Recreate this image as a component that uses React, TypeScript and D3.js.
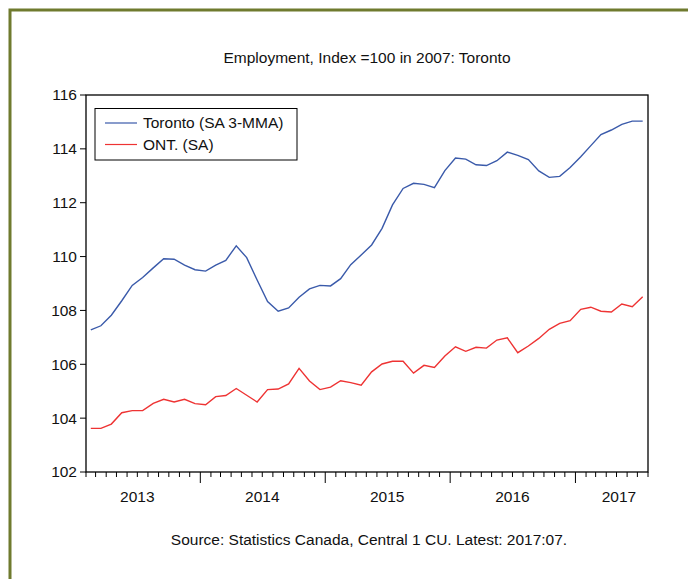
import React from 'react';
import * as d3 from 'd3';

const title = 'Employment, Index =100 in 2007: Toronto';
const source = 'Source: Statistics Canada, Central 1 CU. Latest: 2017:07.';
const seriesNames = ['Toronto (SA 3-MMA)', 'ONT. (SA)'];
const seriesColors = ['#3a5aaa', '#ee3333'];

// monthly, Feb 2013 .. Jul 2017
const startMonth = new Date(2013, 1, 1);
const endMonth = new Date(2017, 7, 1);

const toronto = [
  107.28, 107.43, 107.82, 108.36, 108.93, 109.22, 109.58, 109.92, 109.90, 109.68,
  109.51, 109.46, 109.68, 109.86, 110.40, 109.96, 109.13, 108.33, 107.97, 108.09,
  108.49, 108.80, 108.93, 108.91, 109.18, 109.70, 110.06, 110.43, 111.05, 111.92,
  112.53, 112.72, 112.68, 112.56, 113.19, 113.66, 113.62, 113.41, 113.38, 113.56,
  113.88, 113.76, 113.60, 113.18, 112.94, 112.98, 113.31, 113.71, 114.12, 114.53,
  114.70, 114.91, 115.03, 115.03,
];

const ontario = [
  103.62, 103.62, 103.78, 104.20, 104.28, 104.28, 104.55, 104.70, 104.60, 104.70,
  104.54, 104.50, 104.80, 104.84, 105.10, 104.85, 104.60, 105.06, 105.08, 105.27,
  105.85, 105.38, 105.06, 105.15, 105.39, 105.32, 105.22, 105.72, 106.01, 106.11,
  106.11, 105.67, 105.96, 105.88, 106.31, 106.65, 106.48, 106.63, 106.60, 106.90,
  106.98, 106.43, 106.68, 106.96, 107.30, 107.52, 107.62, 108.04, 108.12, 107.97,
  107.94, 108.24, 108.14, 108.51,
];

const yTicks = [102, 104, 106, 108, 110, 112, 114, 116];
const yearLabels = ['2013', '2014', '2015', '2016', '2017'];

const W = 688;
const H = 579;
const left = 86, right = 648, top = 95, bottom = 472;
const font = 'Liberation Sans, Arial, sans-serif';
const fs = 15.5;

export default function App() {
  const months = d3.timeMonth.range(startMonth, endMonth);
  const x = d3.scaleTime().domain([startMonth, endMonth]).range([left, right]);
  const y = d3.scaleLinear().domain([102, 116]).range([bottom, top]);

  // points sit in the middle of each month
  const mid = (d: Date) => (x(d) + x(d3.timeMonth.offset(d, 1))) / 2;
  const line = d3.line<number>()
    .x((_, i) => mid(months[i]))
    .y(v => y(v));

  const tickMonths = d3.timeMonth.range(startMonth, d3.timeMonth.offset(endMonth, 1));

  return (
    <svg width={W} height={H} style={{ position: 'absolute', left: 0, top: 0 }} fontFamily={font}>
      <rect x={0} y={0} width={W} height={H} fill="#fff" />
      <rect x={10} y={10} width={W + 20} height={H + 20} fill="none" stroke="#6f7a2e" strokeWidth={3} />

      <text x={367} y={63} textAnchor="middle" fontSize={fs} fill="#111">{title}</text>

      {/* y axis */}
      {yTicks.map(t => (
        <g key={t}>
          <line x1={left - 6} x2={left} y1={y(t)} y2={y(t)} stroke="#000" />
          <text x={left - 9} y={y(t)} dy="0.35em" textAnchor="end" fontSize={fs} fill="#111">{t}</text>
        </g>
      ))}

      {/* x axis ticks */}
      {tickMonths.map((d, i) => {
        const major = d.getMonth() === 0;
        return (
          <line key={i} x1={x(d)} x2={x(d)} y1={bottom} y2={bottom + (major ? 11 : 5)} stroke="#000" />
        );
      })}
      {yearLabels.map(lbl => {
        const yr = +lbl;
        const cx = Math.min(x(new Date(yr, 6, 1)), right - 29);
        return (
          <text key={lbl} x={cx} y={502} textAnchor="middle" fontSize={fs} fill="#111">{lbl}</text>
        );
      })}

      {/* lines */}
      <path d={line(toronto) as string} fill="none" stroke={seriesColors[0]} strokeWidth={1.4} />
      <path d={line(ontario) as string} fill="none" stroke={seriesColors[1]} strokeWidth={1.4} />

      <rect x={left} y={top} width={right - left} height={bottom - top} fill="none" stroke="#000" strokeWidth={1.3} />

      {/* legend */}
      <rect x={95} y={108.5} width={202} height={51.5} fill="#fff" stroke="#000" />
      {seriesNames.map((n, i) => (
        <g key={n}>
          <line x1={105} x2={137} y1={123 + i * 21.5} y2={123 + i * 21.5} stroke={seriesColors[i]} strokeWidth={1.2} />
          <text x={143} y={123 + i * 21.5} dy="0.35em" fontSize={fs} fill="#111">{n}</text>
        </g>
      ))}

      <text x={369} y={545} textAnchor="middle" fontSize={fs} fill="#111">{source}</text>
    </svg>
  );
}
